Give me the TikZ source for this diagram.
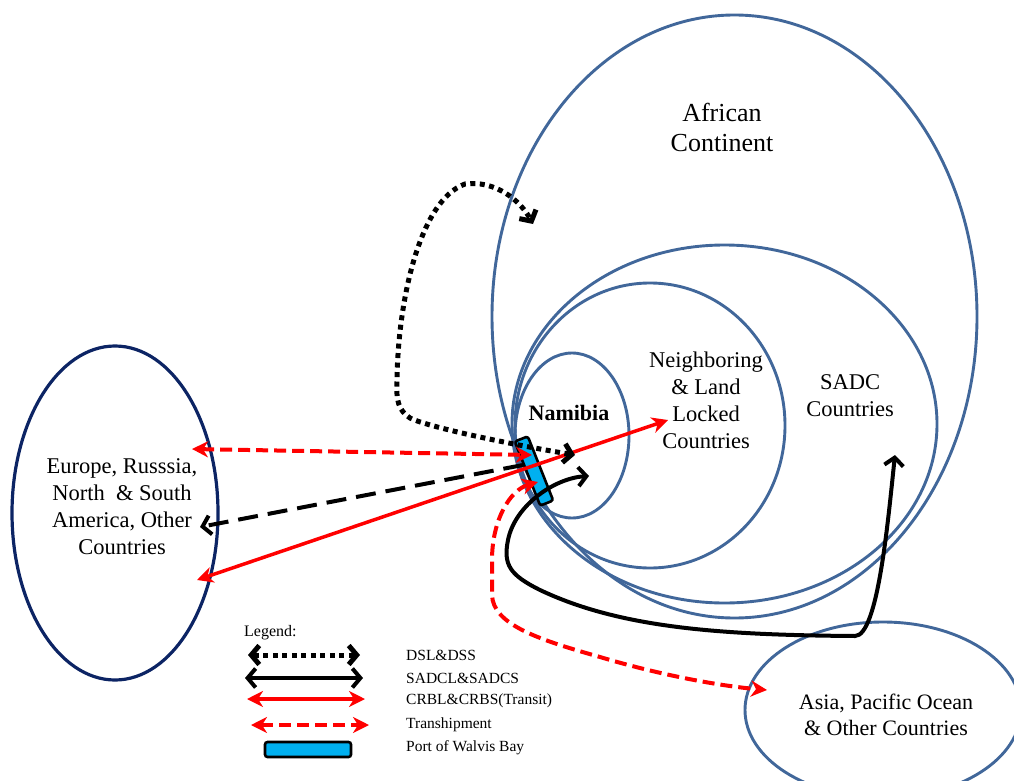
\documentclass[tikz,border=0pt]{standalone}
\usepackage{fontspec}
\setmainfont{Liberation Serif}
\usetikzlibrary{arrows.meta,shapes.geometric}
\definecolor{ellblue}{RGB}{65,103,154}
\definecolor{navyblue}{RGB}{12,36,100}
\definecolor{portcyan}{RGB}{0,176,240}
\tikzset{
  bt/.tip={Straight Barb[length=8pt,width=19pt]},
  rt/.tip={Stealth[length=16pt,width=16pt,inset=5pt]}
}
\begin{document}
\begin{tikzpicture}[x=1pt,y=-1pt,
  region/.style={draw=ellblue, line width=2.9pt, ellipse, inner sep=0pt},
  lbl/.style={align=center, inner sep=0pt, font=\fontsize{22.5}{27}\selectfont},
  leglbl/.style={anchor=west, inner sep=0pt, font=\fontsize{15.5}{18}\selectfont},
  portbox/.style={draw=black, fill=portcyan, line width=2.6pt, rounded corners=2.5pt, inner sep=0pt},
  dotline/.style={draw=black, line width=5pt, dash pattern=on 5pt off 4.5pt},
  blkdash/.style={draw=black, line width=4pt, dash pattern=on 20pt off 10pt},
  blksolid/.style={draw=black, line width=4pt},
  redsolid/.style={draw=red, line width=3.5pt},
  reddash/.style={draw=red, line width=4pt, dash pattern=on 12pt off 6pt}]
\useasboundingbox (0,0) rectangle (1014,781);

% regions
\node[region, minimum width=485pt, minimum height=603pt] (africa) at (734.5,316.5) {};
\node[region, minimum width=425pt, minimum height=358pt] (sadc) at (724.5,424) {};
\node[region, minimum width=270pt, minimum height=285pt] (neigh) at (650,425.5) {};
\node[region, minimum width=114pt, minimum height=165pt] (namibia) at (572,435.5) {};
\node[region, draw=navyblue, line width=3.2pt, minimum width=206pt, minimum height=334pt] (europe) at (115,513) {};
\node[region, minimum width=276pt, minimum height=176pt] (asia) at (883,710) {};

% labels
\node[lbl, font=\fontsize{26}{30}\selectfont] (tafrica) at (722,127) {African\\Continent};
\node[lbl] (tsadc) at (850,396) {SADC\\Countries};
\node[lbl] (tneigh) at (706,400.5) {Neighboring\\\& Land\\Locked\\Countries};
\node[lbl, font=\fontsize{22}{26}\selectfont\bfseries] (tnam) at (569,413) {Namibia};
\node[lbl] (teurope) at (122,507) {Europe, Russsia,\\North\ \ \& South\\America, Other\\Countries};
\node[lbl, font=\fontsize{22}{26}\selectfont] (tasia) at (886,715) {Asia, Pacific Ocean\\\& Other Countries};

% port of Walvis Bay
\node[portbox, rotate=21.6, minimum width=14pt, minimum height=69pt] (port) at (534,471) {};

% connector end points
\coordinate (eu1) at (192,449);
\coordinate (pt1) at (532,455);
\coordinate (eu2) at (200,527);
\coordinate (pt2) at (523,465);
\coordinate (eu3) at (197,580);
\coordinate (nb1) at (668,420);
\coordinate (nm1) at (575,455);
\coordinate (af1) at (533,224);
\coordinate (nm2) at (589,476);
\coordinate (sa1) at (895,455);
\coordinate (pt3) at (538,482);
\coordinate (as1) at (767,690);

% transhipment to Europe
\draw[reddash, {rt}-{rt}] (eu1) -- (pt1);
% black dashed to Europe
\draw[blkdash, -{bt}] (pt2) -- (eu2);
% transit red solid
\draw[redsolid, {rt}-{rt}] (eu3) -- (nb1);
% DSL dotted
\draw[dotline, {bt}-{bt}] (nm1) .. controls (520,446) and (430,428) .. (410,418)
  .. controls (398,410) and (396,400) .. (397,380)
  .. controls (398,300) and (420,200) .. (465,184)
  .. controls (495,180) and (520,200) .. (af1);
% SADC solid
\draw[blksolid, {bt}-{bt}] (nm2) .. controls (555,478) and (515,505) .. (508,540)
  .. controls (503,565) and (510,575) .. (540,590)
  .. controls (620,628) and (720,635) .. (855,636)
  .. controls (878,636) and (888,520) .. (sa1);
% transhipment to Asia
\draw[reddash, {rt}-{rt}] (pt3) .. controls (510,490) and (492,520) .. (492,560)
  -- (492,595)
  .. controls (493,625) and (540,640) .. (600,657)
  .. controls (660,675) and (720,686) .. (as1);

% legend
\node[leglbl, font=\fontsize{16}{19}\selectfont] (leg) at (244,633) {Legend:};
\coordinate (l1a) at (248,655); \coordinate (l1b) at (360,655);
\coordinate (l2a) at (245,678); \coordinate (l2b) at (363,678);
\coordinate (l3a) at (247,699); \coordinate (l3b) at (365,699);
\coordinate (l4a) at (251,725); \coordinate (l4b) at (369,725);
\draw[dotline, {bt}-{bt}] (l1a) -- (l1b);
\draw[blksolid, {bt}-{bt}] (l2a) -- (l2b);
\draw[redsolid, {rt}-{rt}] (l3a) -- (l3b);
\draw[reddash, {rt}-{rt}] (l4a) -- (l4b);
\node[portbox, minimum width=86pt, minimum height=15pt] (legport) at (308,749.5) {};
\node[leglbl] (lt1) at (406,655) {DSL\&DSS};
\node[leglbl] (lt2) at (406,678) {SADCL\&SADCS};
\node[leglbl] (lt3) at (406,701) {CRBL\&CRBS(Transit)};
\node[leglbl] (lt4) at (406,725) {Transhipment};
\node[leglbl] (lt5) at (406,748) {Port of Walvis Bay};
\end{tikzpicture}
\end{document}
